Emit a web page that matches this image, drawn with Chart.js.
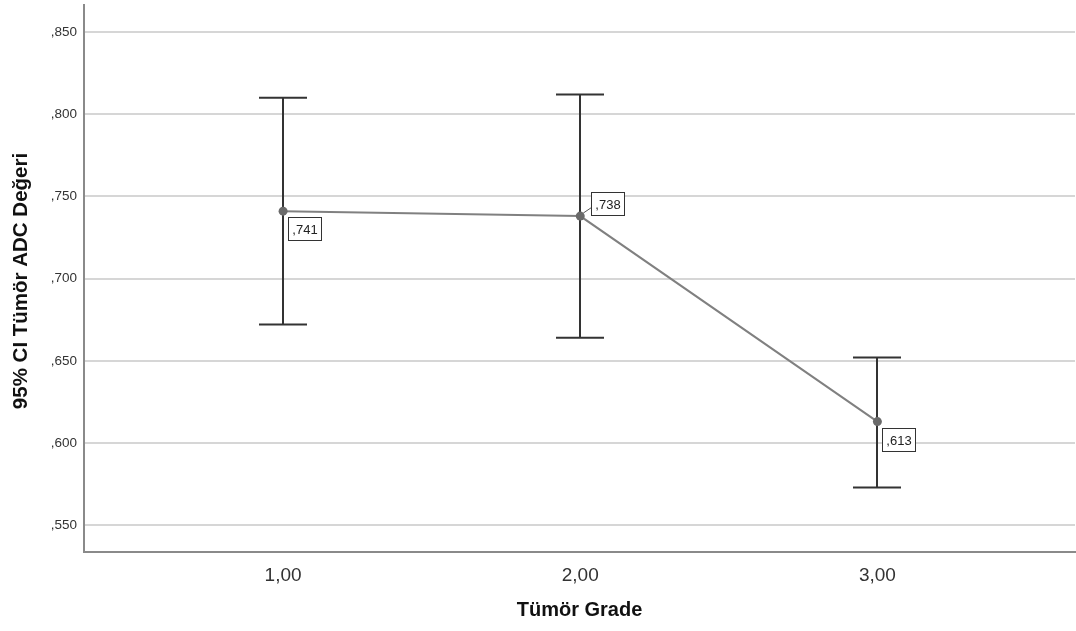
<!DOCTYPE html>
<html>
<head>
<meta charset="utf-8">
<script src="https://cdn.jsdelivr.net/npm/chart.js@4.4.1/dist/chart.umd.min.js"></script>
<style>
  html, body { margin: 0; padding: 0; background: #ffffff; }
  #wrap { width: 1076px; height: 631px; position: relative; }
</style>
</head>
<body>
<div id="wrap"><canvas id="c" width="1076" height="631"></canvas></div>
<script>
// Tumour grade groups and ADC means with 95% confidence limits
const grades = [1, 2, 3];
const gradeLabels = ['1,00', '2,00', '3,00'];
const meanADC = [0.741, 0.738, 0.613];
const upperCI = [0.810, 0.812, 0.652];
const lowerCI = [0.672, 0.664, 0.573];
const yTicks = [0.55, 0.60, 0.65, 0.70, 0.75, 0.80, 0.85];

// Where each value box sits relative to its point (pixels)
const labelOffsets = [
  { dx: 5, dy: 6, leader: false },
  { dx: 11, dy: -24, leader: true },
  { dx: 5, dy: 6, leader: false }
];

const FONT = '"Liberation Sans", Arial, sans-serif';
const fmt = v => ',' + Math.round(v * 1000).toString().padStart(3, '0');

const errorBars = {
  id: 'errorBars',
  beforeDatasetsDraw(chart) {
    const { ctx, scales: { x, y } } = chart;
    ctx.save();
    ctx.strokeStyle = '#333333';
    ctx.lineWidth = 2;
    grades.forEach((g, i) => {
      const px = Math.round(x.getPixelForValue(g));
      const yt = y.getPixelForValue(upperCI[i]);
      const yb = y.getPixelForValue(lowerCI[i]);
      ctx.beginPath();
      ctx.moveTo(px, yt); ctx.lineTo(px, yb);
      ctx.moveTo(px - 24, yt); ctx.lineTo(px + 24, yt);
      ctx.moveTo(px - 24, yb); ctx.lineTo(px + 24, yb);
      ctx.stroke();
    });
    ctx.restore();
  }
};

const valueLabels = {
  id: 'valueLabels',
  afterDatasetsDraw(chart) {
    const { ctx, scales: { x, y } } = chart;
    ctx.save();
    ctx.font = '13px ' + FONT;
    ctx.textBaseline = 'middle';
    ctx.textAlign = 'center';
    grades.forEach((g, i) => {
      const px = x.getPixelForValue(g);
      const py = y.getPixelForValue(meanADC[i]);
      const o = labelOffsets[i];
      const txt = fmt(meanADC[i]);
      const w = Math.ceil(ctx.measureText(txt).width) + 7;
      const h = 23;
      const bx = Math.round(px + o.dx) + 0.5;
      const by = Math.round(py + o.dy) + 0.5;
      if (o.leader) {
        ctx.strokeStyle = '#555555';
        ctx.lineWidth = 1;
        ctx.beginPath();
        ctx.moveTo(px + 3, py - 3);
        ctx.lineTo(bx, by + h - 8);
        ctx.stroke();
      }
      ctx.fillStyle = '#ffffff';
      ctx.fillRect(bx, by, w, h);
      ctx.strokeStyle = '#333333';
      ctx.lineWidth = 1;
      ctx.strokeRect(bx, by, w, h);
      ctx.fillStyle = '#222222';
      ctx.fillText(txt, bx + w / 2, by + h / 2 + 1);
    });
    ctx.restore();
  }
};

const axisTitles = {
  id: 'axisTitles',
  afterDraw(chart) {
    const { ctx, chartArea: a } = chart;
    ctx.save();
    ctx.fillStyle = '#111111';
    ctx.textAlign = 'center';
    ctx.textBaseline = 'middle';
    ctx.font = 'bold 20px ' + FONT;
    ctx.fillText('Tümör Grade', (a.left + a.right) / 2, 610);
    ctx.font = 'bold 20.5px ' + FONT;
    ctx.translate(21, 281);
    ctx.rotate(-Math.PI / 2);
    ctx.fillText('95% CI Tümör ADC Değeri', 0, 0);
    ctx.restore();
  }
};

new Chart(document.getElementById('c'), {
  type: 'scatter',
  data: {
    datasets: [{
      data: grades.map((g, i) => ({ x: g, y: meanADC[i] })),
      showLine: true,
      borderColor: '#808080',
      borderWidth: 2,
      pointRadius: 4.5,
      pointBackgroundColor: '#6a6a6a',
      pointBorderColor: '#6a6a6a',
      pointBorderWidth: 0
    }]
  },
  options: {
    responsive: false,
    animation: false,
    devicePixelRatio: 1,
    layout: { autoPadding: false, padding: { top: 5, right: 1, left: 0, bottom: 0 } },
    plugins: { legend: { display: false }, tooltip: { enabled: false } },
    scales: {
      x: {
        type: 'linear',
        min: 0.33,
        max: 3.665,
        afterBuildTicks: s => { s.ticks = grades.map(v => ({ value: v })); },
        afterFit: s => {
          s.height = 79;
          s.paddingLeft = 0; s.paddingRight = 0;
        },
        ticks: {
          callback: (v) => gradeLabels[grades.indexOf(v)],
          color: '#333333',
          font: { family: FONT, size: 19 },
          padding: 12,
          maxRotation: 0
        },
        grid: { display: false, drawTicks: false },
        border: { display: true, color: '#8a8a8a', width: 2 }
      },
      y: {
        type: 'linear',
        min: 0.5337,
        max: 0.8664,
        afterBuildTicks: s => { s.ticks = yTicks.map(v => ({ value: v })); },
        afterFit: s => {
          s.width = 84;
          s.paddingTop = 0; s.paddingBottom = 0;
        },
        ticks: {
          callback: v => fmt(v),
          color: '#333333',
          font: { family: FONT, size: 13.5 },
          padding: 7
        },
        grid: { color: '#d6d6d6', lineWidth: 2, drawTicks: false },
        border: { display: true, color: '#8a8a8a', width: 2 }
      }
    }
  },
  plugins: [errorBars, valueLabels, axisTitles]
});
</script>
</body>
</html>
